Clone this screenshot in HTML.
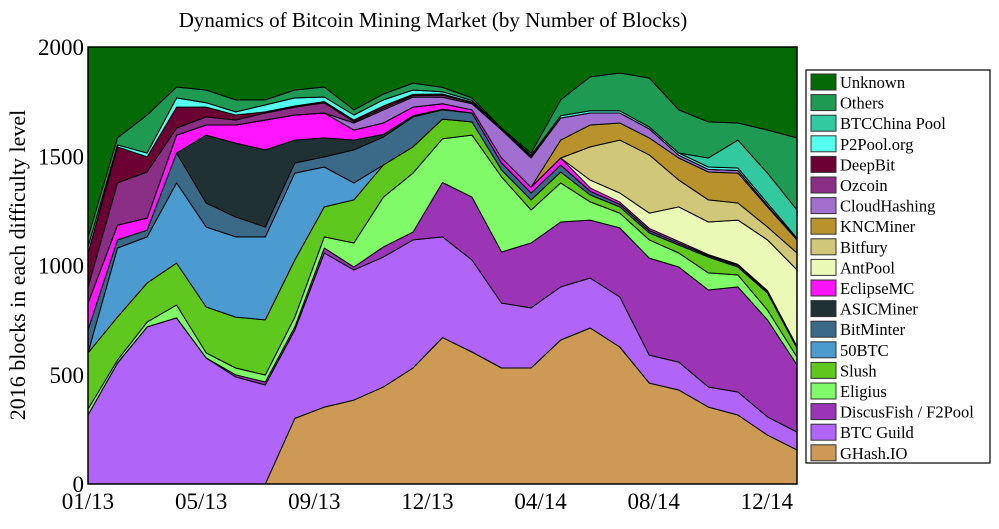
<!DOCTYPE html>
<html><head><meta charset="utf-8"><style>
body{margin:0;background:#fff;width:999px;height:524px;overflow:hidden}
svg text{font-family:"Liberation Serif",serif;fill:#000}
</style></head><body>
<svg id="chart" width="999" height="524" viewBox="0 0 999 524" xmlns="http://www.w3.org/2000/svg">
<text x="433" y="27" font-size="21" text-anchor="middle">Dynamics of Bitcoin Mining Market (by Number of Blocks)</text>
<text transform="translate(25,265) rotate(-90)" font-size="22" text-anchor="middle">2016 blocks in each difficulty level</text>
<g id="areas"></g>
<rect x="88" y="47" width="709" height="437" fill="none" stroke="#000" stroke-width="1.5"/>
<g id="axes"></g>
<g id="legend"></g>
</svg>
<script>
const seriesNames = ["GHash.IO","BTC Guild","DiscusFish / F2Pool","Eligius","Slush","50BTC","BitMinter","ASICMiner","EclipseMC","AntPool","Bitfury","KNCMiner","CloudHashing","Ozcoin","DeepBit","P2Pool.org","BTCChina Pool","Others"];
const ghash     = [0,0,0,0,0,0,0,300,352,384,444,531,670,604,531,531,659,714,627,462,430,352,316,224,156];
const btcguild  = [316,554,719,760,577,490,453,405,705,596,595,586,461,421,297,275,243,229,229,128,128,92,105,83,82];
const discus    = [0,0,0,0,0,10,14,14,23,13,46,36,249,288,234,297,297,265,316,444,435,444,481,444,307];
const eligius   = [27,13,22,59,23,31,32,45,51,110,228,270,200,284,343,151,179,83,68,83,64,78,55,45,36];
const slush     = [257,197,179,192,210,233,252,261,137,197,147,120,90,60,32,46,50,32,28,32,37,73,36,78,41];
const btc50     = [0,316,211,367,366,367,380,398,183,78,0,0,0,0,0,0,0,0,0,0,0,0,0,0,0];
const bitminter = [105,37,31,137,110,91,45,46,46,151,128,137,42,41,32,32,32,17,12,11,8,6,7,6,5];
const asicminer = [0,0,0,0,311,338,353,105,87,45,12,5,3,0,0,0,0,0,0,0,0,0,0,0,0];
const eclipse   = [123,68,55,82,46,83,137,115,114,46,52,40,25,14,23,27,32,15,10,10,8,5,5,5,3];
const antpool   = [0,0,0,0,0,0,0,0,0,0,0,0,0,0,0,0,0,36,42,70,158,149,203,232,350];
const bitfury   = [0,0,0,0,0,0,0,0,0,0,0,0,0,0,0,0,0,152,242,266,123,101,78,59,77];
const kncminer  = [0,0,0,0,0,0,0,0,0,0,0,0,0,0,0,0,82,100,78,78,101,128,137,92,60];
const cloudhash = [0,0,0,0,0,0,0,0,0,32,60,46,30,28,128,133,101,55,46,41,13,12,12,7,3];
const ozcoin    = [72,193,211,32,37,23,32,36,46,6,8,7,10,5,3,5,0,0,0,0,0,0,0,0,0];
const deepbit   = [157,165,69,96,45,23,5,5,6,8,10,5,5,3,2,3,0,0,0,0,0,0,0,0,0];
const p2pool    = [28,9,18,42,20,14,32,37,21,23,28,20,10,7,2,5,10,10,10,9,10,11,11,10,5];
const btcchina  = [0,0,0,0,0,0,0,0,0,0,0,0,0,0,0,0,0,0,0,0,0,41,128,138,129];
const others    = [45,32,174,50,58,55,23,36,46,23,27,32,20,12,2,10,73,155,173,224,197,165,78,197,330];
const totalBlocks = 2000;
const xTickLabels = ["01/13","05/13","09/13","12/13","04/14","08/14","12/14"];
const xTickIdx = [0,3.83,7.66,11.49,15.32,19.15,22.98];
const yTicks = [0,500,1000,1500,2000];

const colors = ["#cc9a55","#b064f8","#9b35b5","#80fa68","#5fc81f","#4b9bd0","#3a6a87","#1f3133","#ff16ff","#eafab6","#d0c878","#b8922a","#a06fd0","#8a2f85","#6b0033","#55ffee","#33c9a0","#1f9a52","#036a06"];
const ns="http://www.w3.org/2000/svg";
const X0=88,X1=797,Y0=484,Y1=47;
const nPts = ghash.length;
function xs(i){return X0+(X1-X0)*i/(nPts-1);}
function ys(v){return Y0-(Y0-Y1)*v/totalBlocks;}
const series=[ghash,btcguild,discus,eligius,slush,btc50,bitminter,asicminer,eclipse,antpool,bitfury,kncminer,cloudhash,ozcoin,deepbit,p2pool,btcchina,others];
const unknown = ghash.map((_,i)=>Math.max(0,totalBlocks-series.reduce((s,a)=>s+a[i],0)));
const allSeries = series.concat([unknown]);
const allNames = seriesNames.concat(["Unknown"]);
const areas=document.getElementById('areas');
let base=new Array(nPts).fill(0);
allSeries.forEach((arr,k)=>{
  const top=base.map((b,i)=>b+arr[i]);
  let d="M"+top.map((v,i)=>xs(i).toFixed(1)+","+ys(v).toFixed(1)).join("L");
  for(let i=nPts-1;i>=0;i--) d+="L"+xs(i).toFixed(1)+","+ys(base[i]).toFixed(1);
  d+="Z";
  const p=document.createElementNS(ns,"path");
  
  
  p.setAttribute("d",d);p.setAttribute("fill",colors[k]);p.setAttribute("stroke","#000");p.setAttribute("stroke-width","1");p.setAttribute("stroke-linejoin","round");
  areas.appendChild(p);
  base=top;
});
const axes=document.getElementById('axes');
yTicks.forEach(v=>{
  const t=document.createElementNS(ns,"text");
  
  
  t.setAttribute("x",84);t.setAttribute("y",ys(v)+8);t.setAttribute("font-size","23");t.setAttribute("text-anchor","end");
  t.textContent=v;axes.appendChild(t);
});
xTickLabels.forEach((lab,j)=>{
  const t=document.createElementNS(ns,"text");
  
  
  t.setAttribute("x",xs(xTickIdx[j]));t.setAttribute("y",509);t.setAttribute("font-size","23");t.setAttribute("text-anchor","middle");
  t.textContent=lab;axes.appendChild(t);
});
const leg=document.getElementById('legend');
const box=document.createElementNS(ns,"rect");


box.setAttribute("x",806);box.setAttribute("y",70);box.setAttribute("width",184);box.setAttribute("height",393);box.setAttribute("fill","#fff");box.setAttribute("stroke","#000");box.setAttribute("stroke-width","1.2");
leg.appendChild(box);
for(let k=allNames.length-1,r=0;k>=0;k--,r++){
  const y=74+r*20.6;
  const s=document.createElementNS(ns,"rect");
  
  
  s.setAttribute("x",811);s.setAttribute("y",y);s.setAttribute("width",25);s.setAttribute("height",16);s.setAttribute("fill",colors[k]);s.setAttribute("stroke","#333");s.setAttribute("stroke-width","1");
  leg.appendChild(s);
  const t=document.createElementNS(ns,"text");
  
  
  t.setAttribute("x",840);t.setAttribute("y",y+14);t.setAttribute("font-size","16.5");
  t.textContent=allNames[k];leg.appendChild(t);
}
</script>
</body></html>
